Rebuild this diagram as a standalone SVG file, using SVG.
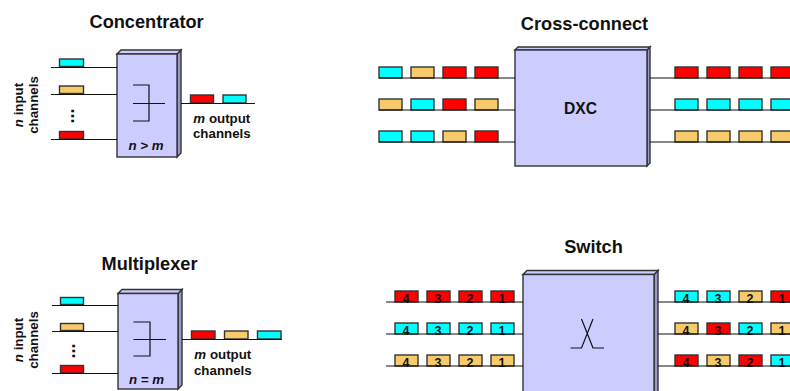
<svg xmlns="http://www.w3.org/2000/svg" width="790" height="391" viewBox="0 0 790 391">
<style>
text{font-family:"Liberation Sans",Arial,sans-serif;font-weight:bold;fill:#111}
.t{font-size:18.2px;text-anchor:middle}
.l{font-size:13.3px;text-anchor:middle}
.i{font-style:italic}
.dot{font-size:18px;text-anchor:middle}
.d{font-size:12.5px;text-anchor:middle}
.f{fill:#ccccff;stroke:#333;stroke-width:1.4}
.s{fill:#9999cc;stroke:#333;stroke-width:1.4}
.p{fill:#ccccff;stroke:#333;stroke-width:1.4}
.w{fill:none;stroke:#111;stroke-width:1.2}
.c{stroke:#333;stroke-width:1.4}
.cy{fill:#00ffff}.ta{fill:#f7cb6b}.re{fill:#ff0000}
</style>
<rect width="790" height="391" fill="#fff"/>
<g id="concentrator">
<text class="t" x="146.600" y="28">Concentrator</text>
<path class="s" d="M177 54L181 50V153L177 157Z"/>
<path class="p" d="M117 54L121 50H181L177 54Z"/>
<rect class="f" x="117" y="54" width="60" height="103"/>
<path class="w" d="M133 85H149V121H133M133 103.500H165"/>
<text class="l i" x="146" y="150">n &gt; m</text>
<g class="c">
<rect class="cy" x="59.500" y="59" width="24" height="7.500"/>
<rect class="ta" x="59.500" y="86" width="24" height="7.500"/>
<rect class="re" x="59.500" y="131.500" width="24" height="7.500"/>
<rect class="re" x="190.500" y="95" width="23" height="8"/>
<rect class="cy" x="223" y="95" width="23" height="8"/>
</g>
<text class="dot" transform="translate(74 116) rotate(-90)">...</text>
<text class="l" transform="translate(22.500 105) rotate(-90)"><tspan class="i">n</tspan> input</text>
<text class="l" transform="translate(38 105) rotate(-90)">channels</text>
<text class="l" x="221.800" y="123"><tspan class="i">m</tspan> output</text>
<text class="l" x="221.800" y="138">channels</text>
</g>
<g id="multiplexer">
<text class="t" x="149.500" y="270">Multiplexer</text>
<path class="s" d="M178 293.500L182 289.500V385L178 389Z"/>
<path class="p" d="M118 293.500L122 289.500H182L178 293.500Z"/>
<rect class="f" x="118" y="293.500" width="60" height="95.500"/>
<path class="w" d="M133.500 322H150V356H133.500M133.500 339.500H166"/>
<text class="l i" x="146.500" y="384">n = m</text>
<g class="c">
<rect class="cy" x="60.500" y="297.500" width="23" height="7"/>
<rect class="ta" x="60.500" y="323.500" width="23" height="7"/>
<rect class="re" x="60.500" y="365.500" width="23" height="7.500"/>
<rect class="re" x="191.500" y="331" width="23.500" height="8"/>
<rect class="ta" x="224.500" y="331" width="23.500" height="8"/>
<rect class="cy" x="257.500" y="331" width="23.500" height="8"/>
</g>
<text class="dot" transform="translate(75 351) rotate(-90)">...</text>
<text class="l" transform="translate(22.500 340) rotate(-90)"><tspan class="i">n</tspan> input</text>
<text class="l" transform="translate(38 340) rotate(-90)">channels</text>
<text class="l" x="222.800" y="359"><tspan class="i">m</tspan> output</text>
<text class="l" x="222.800" y="375">channels</text>
</g>
<g id="cross-connect">
<text class="t" x="584.500" y="30">Cross-connect</text>
<path class="s" d="M647 50L650 47V163L647 166Z"/>
<path class="p" d="M515 50L518 47H650L647 50Z"/>
<rect class="f" x="515" y="50" width="132" height="116"/>
<text x="580.500" y="114.300" style="font-size:15.600px;text-anchor:middle">DXC</text>
<g class="c">
<rect class="cy" x="379" y="67" width="23" height="11"/><rect class="ta" x="411" y="67" width="23" height="11"/><rect class="re" x="443" y="67" width="23" height="11"/><rect class="re" x="475" y="67" width="23" height="11"/>
<rect class="ta" x="379" y="99" width="23" height="11"/><rect class="cy" x="411" y="99" width="23" height="11"/><rect class="re" x="443" y="99" width="23" height="11"/><rect class="ta" x="475" y="99" width="23" height="11"/>
<rect class="cy" x="379" y="131" width="23" height="11"/><rect class="cy" x="411" y="131" width="23" height="11"/><rect class="ta" x="443" y="131" width="23" height="11"/><rect class="re" x="475" y="131" width="23" height="11"/>
<rect class="re" x="675" y="67" width="23" height="11"/><rect class="re" x="707" y="67" width="23" height="11"/><rect class="re" x="739" y="67" width="23" height="11"/><rect class="re" x="771" y="67" width="23" height="11"/>
<rect class="cy" x="675" y="99" width="23" height="11"/><rect class="cy" x="707" y="99" width="23" height="11"/><rect class="cy" x="739" y="99" width="23" height="11"/><rect class="cy" x="771" y="99" width="23" height="11"/>
<rect class="ta" x="675" y="131" width="23" height="11"/><rect class="ta" x="707" y="131" width="23" height="11"/><rect class="ta" x="739" y="131" width="23" height="11"/><rect class="ta" x="771" y="131" width="23" height="11"/>
</g>
</g>
<g id="switch">
<text class="t" x="593.500" y="253.300">Switch</text>
<path class="s" d="M654 274.500L658 270.500V395H654Z"/>
<path class="p" d="M523 274.500L527 270.500H658L654 274.500Z"/>
<rect class="f" x="523" y="274.500" width="131" height="125"/>
<path class="w" d="M570.500 348H581.500L593 319M604 348H593L581.500 319"/>
<g class="c">
<rect class="re" x="395" y="291" width="23" height="11"/><rect class="re" x="427" y="291" width="23" height="11"/><rect class="re" x="459" y="291" width="23" height="11"/><rect class="re" x="491" y="291" width="23" height="11"/>
<rect class="cy" x="395" y="323" width="23" height="11"/><rect class="cy" x="427" y="323" width="23" height="11"/><rect class="cy" x="459" y="323" width="23" height="11"/><rect class="cy" x="491" y="323" width="23" height="11"/>
<rect class="ta" x="395" y="355" width="23" height="11"/><rect class="ta" x="427" y="355" width="23" height="11"/><rect class="ta" x="459" y="355" width="23" height="11"/><rect class="ta" x="491" y="355" width="23" height="11"/>
<rect class="cy" x="675" y="291" width="23" height="11"/><rect class="cy" x="707" y="291" width="23" height="11"/><rect class="ta" x="739" y="291" width="23" height="11"/><rect class="re" x="771" y="291" width="23" height="11"/>
<rect class="ta" x="675" y="323" width="23" height="11"/><rect class="re" x="707" y="323" width="23" height="11"/><rect class="cy" x="739" y="323" width="23" height="11"/><rect class="ta" x="771" y="323" width="23" height="11"/>
<rect class="re" x="675" y="355" width="23" height="11"/><rect class="ta" x="707" y="355" width="23" height="11"/><rect class="re" x="739" y="355" width="23" height="11"/><rect class="cy" x="771" y="355" width="23" height="11"/>
</g>
<g>
<text class="d" x="406" y="303">4</text><text class="d" x="438" y="303">3</text><text class="d" x="470" y="303">2</text><text class="d" x="502" y="303">1</text>
<text class="d" x="406" y="335">4</text><text class="d" x="438" y="335">3</text><text class="d" x="470" y="335">2</text><text class="d" x="502" y="335">1</text>
<text class="d" x="406" y="367">4</text><text class="d" x="438" y="367">3</text><text class="d" x="470" y="367">2</text><text class="d" x="502" y="367">1</text>
<text class="d" x="686" y="303">4</text><text class="d" x="718" y="303">3</text><text class="d" x="750" y="303">2</text><text class="d" x="782" y="303">1</text>
<text class="d" x="686" y="335">4</text><text class="d" x="718" y="335">3</text><text class="d" x="750" y="335">2</text><text class="d" x="782" y="335">1</text>
<text class="d" x="686" y="367">4</text><text class="d" x="718" y="367">3</text><text class="d" x="750" y="367">2</text><text class="d" x="782" y="367">1</text>
</g>
</g>
<g id="connectors" class="w">
<path d="M51 67.500H117M51 94.500H117M51 139.500H117M181 103.500H255"/>
<path d="M52 305.500H118M52 331.500H118M52 373.500H118M182 339.500H282"/>
<path d="M379 78H515M379 110H515M379 142H515M650 78H790M650 110H790M650 142H790"/>
<path d="M386 302H523M386 334H523M386 366H523M658 302H790M658 334H790M658 366H790"/>
</g>
</svg>
